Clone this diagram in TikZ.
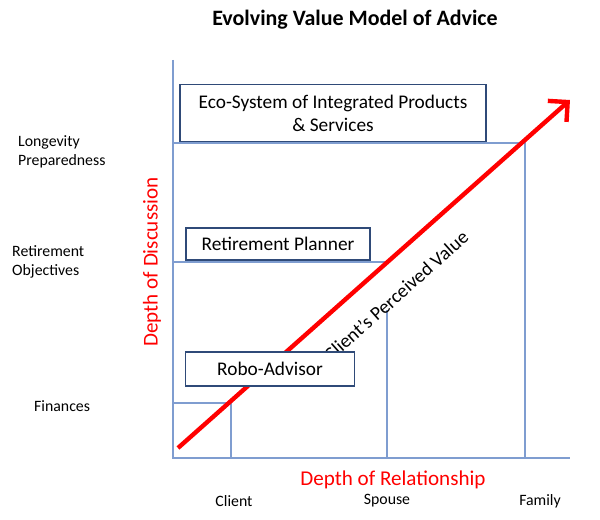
\documentclass[tikz,border=0pt]{standalone}
\usepackage{fontspec}
\setmainfont{Carlito}
\usetikzlibrary{arrows.meta}
\definecolor{gridblue}{HTML}{7F9DD0}
\definecolor{boxblue}{HTML}{2F4A78}
\begin{document}
\begin{tikzpicture}[x=0.02cm, y=-0.02cm]
    \tikzstyle{gridline} = [draw=gridblue, line width=0.8pt]
    \tikzstyle{box} = [rectangle, draw=boxblue, fill=white, line width=0.8pt, align=center, font=\fontsize{11}{13}\selectfont]
    \tikzstyle{level} = [align=left, anchor=west, font=\fontsize{9}{11}\selectfont]
    \tikzstyle{member} = [font=\fontsize{9}{11}\selectfont]
    \tikzstyle{axislabel} = [text=red, font=\fontsize{12}{14}\selectfont]
    \useasboundingbox (0,0) rectangle (600,520);

    \node[font=\bfseries\fontsize{12.5}{15}\selectfont] (title) at (355,20) {Evolving Value Model of Advice};

    % axes and levels
    \coordinate (origin) at (173,458);
    \coordinate (ytop) at (173,60);
    \coordinate (xend) at (570,458);
    \draw[gridline] (ytop) -- (origin) -- (xend);
    \draw[gridline] (173,143) -- (525,143) -- (525,458);
    \draw[gridline] (173,262) -- (390,262);
    \draw[gridline] (387,310) -- (387,458);
    \draw[gridline] (173,403) -- (231,403) -- (231,458);

    % value arrow
    \coordinate (vstart) at (178,448);
    \coordinate (vend) at (570,100);
    \draw[red, line width=2.5pt, -{Straight Barb[length=8pt]}] (vstart) -- (vend);
    \node[rotate=41.6, font=\fontsize{11}{13}\selectfont] (perceived) at (396,296) {Client’s Perceived Value};

    % boxes
    \node[box, minimum width=306*0.02cm, minimum height=57*0.02cm] (eco) at (333,113) {Eco-System of Integrated Products\\ \& Services};
    \node[box, minimum width=184*0.02cm, minimum height=32*0.02cm] (planner) at (278,244) {Retirement Planner};
    \node[box, minimum width=169*0.02cm, minimum height=34*0.02cm] (robo) at (270,369) {Robo-Advisor};

    % labels
    \node[level] (longevity) at (12,152) {Longevity\\Preparedness};
    \node[level] (objectives) at (6,262) {Retirement\\Objectives};
    \node[level] (finances) at (28,406) {Finances};
    \node[axislabel, rotate=90] (discussion) at (152,262) {Depth of Discussion};
    \node[axislabel] (relationship) at (393,480) {Depth of Relationship};
    \node[member] (client) at (234,501) {Client};
    \node[member] (spouse) at (387,501) {Spouse};
    \node[member] (family) at (540,501) {Family};
\end{tikzpicture}
\end{document}
